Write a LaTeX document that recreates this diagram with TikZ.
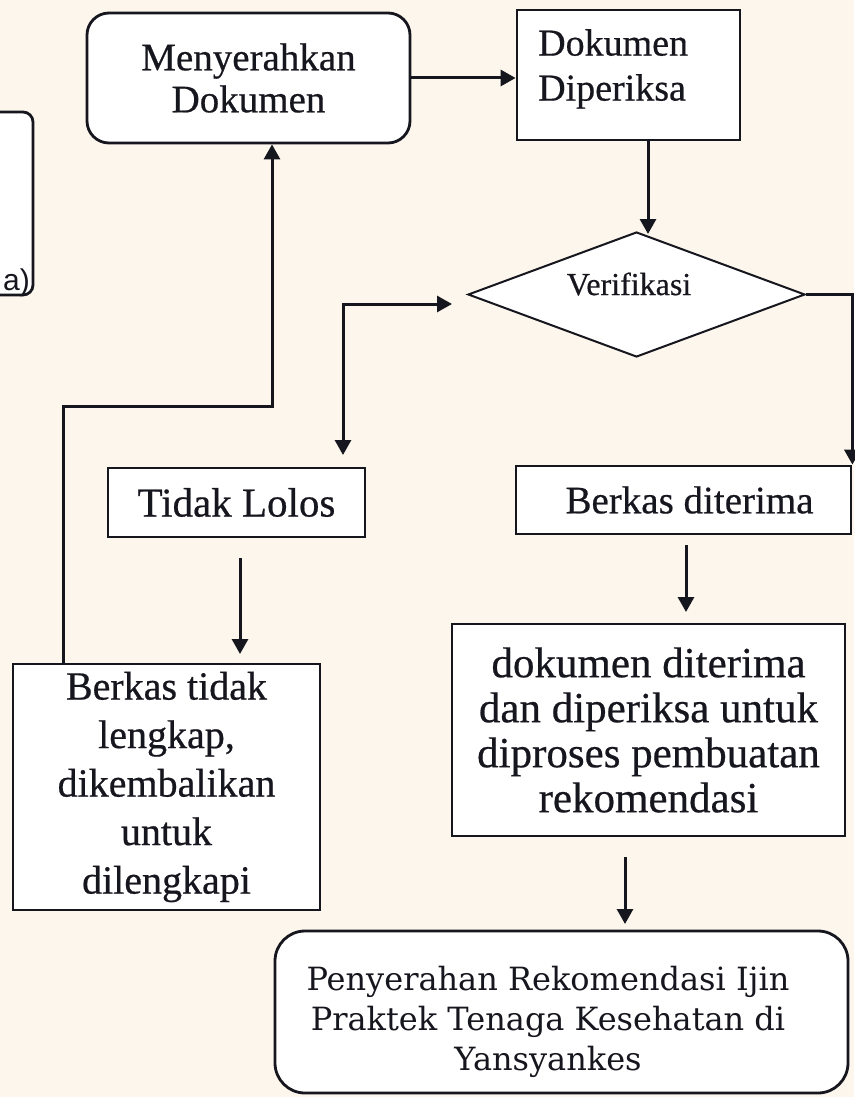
\documentclass[tikz,border=0pt]{standalone}
\usepackage{fontspec}
\setmainfont{Liberation Serif}[FakeBold=0.5]
\newfontfamily\slabfont{DejaVu Serif}
\newfontfamily\sansfont{Liberation Sans}
\usetikzlibrary{arrows.meta,shapes.geometric}
\definecolor{bg}{RGB}{252,246,236}
\definecolor{ink}{RGB}{22,22,30}
\begin{document}
\begin{tikzpicture}[x=1pt,y=-1pt,
  box/.style={draw=ink, line width=2.8pt, fill=white, inner sep=0pt, text=ink, align=center},
  rbox/.style={box, rounded corners=22pt},
  arr/.style={draw=ink, line width=3pt, -{Triangle[length=15pt,width=16pt]}},
  dblarr/.style={draw=ink, line width=3pt, {Triangle[length=15pt,width=16pt]}-{Triangle[length=15pt,width=16pt]}},
  big/.style={font=\fontsize{39}{42}\selectfont},
  bigger/.style={font=\fontsize{40}{48.5}\selectfont},
  mid/.style={font=\fontsize{43}{45}\selectfont}
]
\fill[bg] (0,0) rectangle (854,1097);
\useasboundingbox (0,0) rectangle (854,1097);

% partial box at left edge
\begin{scope}
\clip (0,0) rectangle (854,1097);
\node[box, rounded corners=10pt, minimum width=60pt, minimum height=183pt] (side) at (3,203.5) {};
\end{scope}
\node[anchor=base east, font=\sansfont\fontsize{30}{32}\selectfont, text=ink, inner sep=0pt] (sidet) at (30,290) {a)};

% nodes
\node[rbox, big, minimum width=323pt, minimum height=130pt] (men) at (248.5,78) {Menyerahkan\\Dokumen};
\node[box, minimum width=223pt, minimum height=130pt] (dp) at (628.5,75) {};
\node[font=\fontsize{38}{45}\selectfont, anchor=north west, align=left, text=ink, inner sep=0pt] (dpt) at (538,29) {Dokumen\\Diperiksa};

\node[diamond, draw=ink, line width=2pt, fill=white, inner sep=0pt,
      minimum width=337pt, minimum height=125pt] (ver) at (636.5,294.5) {};
\node[font=\fontsize{32}{34}\selectfont, text=ink] (vert) at (629,284) {Verifikasi};

\node[box, font=\fontsize{41}{44}\selectfont, minimum width=257pt, minimum height=69pt] (tl) at (236.5,502.5) {Tidak Lolos};
\node[box, big, minimum width=335pt, minimum height=68pt] (bd) at (683.5,500) {\hspace*{12pt}Berkas diterima};

\node[box, bigger, minimum width=307pt, minimum height=246pt] (btl) at (166.5,787)
  {Berkas tidak\\lengkap,\\dikembalikan\\untuk\\dilengkapi};
\node[box, mid, minimum width=393pt, minimum height=212pt] (dk) at (648.5,730)
  {dokumen diterima\\dan diperiksa untuk\\diproses pembuatan\\rekomendasi};
\node[rbox, rounded corners=30pt, minimum width=573pt, minimum height=162pt] (pen) at (561.5,1012) {};
\node[font=\slabfont\fontsize{32}{40}\selectfont, text=ink, align=center, inner sep=0pt] (pent) at (548,1022)
  {Penyerahan Rekomendasi Ijin\\Praktek Tenaga Kesehatan di\\Yansyankes};

% helper coordinates
\coordinate (a1) at (648,0);
\coordinate (lc) at (343,304);
\coordinate (ltip) at (452,304);
\coordinate (dtip) at (343,455);
\coordinate (t1) at (240,558);
\coordinate (t2) at (240,654);
\coordinate (lp1) at (63,406);
\coordinate (lp2) at (272,406);
\coordinate (b1) at (686,545);
\coordinate (b2) at (686,612);
\coordinate (k1) at (625,857);
\coordinate (k2) at (625,924);

% connectors
\draw[arr] (men.east) -- (men.east -| dp.west);
\draw[arr] (a1 |- dp.south) -- (648,234);
\draw[arr] (ver.east) -| (bd.north east);
\draw[dblarr] (ltip) -- (lc) -- (dtip);
\draw[arr] (t1) -- (t2);
\draw[arr] (lp1 |- btl.north) -- (lp1) -- (lp2) -- (lp2 |- men.south);
\draw[arr] (b1) -- (b2);
\draw[arr] (k1) -- (k2);
\end{tikzpicture}
\end{document}
